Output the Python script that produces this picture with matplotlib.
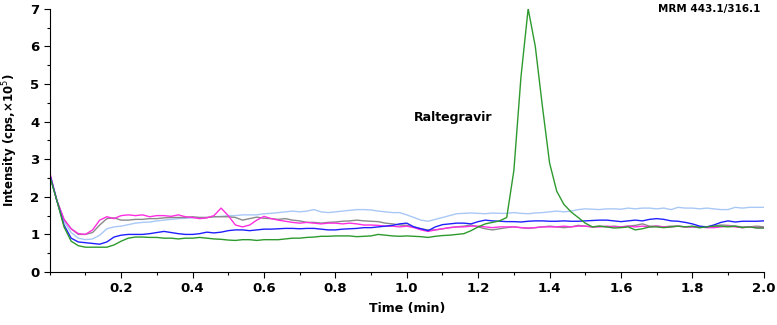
import numpy as np
import matplotlib
matplotlib.use("Agg")
import matplotlib.pyplot as plt
from matplotlib.ticker import MultipleLocator

# retention time grid (min), one sample every 0.02 min
time = np.linspace(0.0, 2.0, 101)

# intensity (cps, x10^5)
green = [2.55, 1.9, 1.2, 0.82, 0.7, 0.66, 0.66, 0.66, 0.66, 0.72,
         0.82, 0.9, 0.93, 0.93, 0.92, 0.92, 0.9, 0.9, 0.88, 0.9,
         0.9, 0.92, 0.9, 0.88, 0.87, 0.85, 0.84, 0.86, 0.86, 0.84,
         0.86, 0.86, 0.86, 0.88, 0.9, 0.9, 0.92, 0.93, 0.95, 0.95,
         0.96, 0.96, 0.96, 0.94, 0.95, 0.96, 1.0, 0.98, 0.96, 0.95,
         0.96, 0.95, 0.94, 0.92, 0.95, 0.97, 0.98, 1.0, 1.02, 1.1,
         1.2, 1.28, 1.32, 1.36, 1.45, 2.7, 5.2, 7.0, 6.0, 4.4,
         2.9, 2.15, 1.8, 1.6, 1.45, 1.3, 1.2, 1.22, 1.2, 1.17,
         1.18, 1.2, 1.12, 1.15, 1.2, 1.2, 1.18, 1.2, 1.22, 1.2,
         1.22, 1.18, 1.2, 1.22, 1.22, 1.2, 1.22, 1.18, 1.2, 1.17,
         1.17]
blue = [2.6, 1.9, 1.25, 0.9, 0.8, 0.78, 0.76, 0.74, 0.8, 0.93,
        0.98, 1.0, 1.0, 1.0, 1.02, 1.05, 1.08, 1.05, 1.02, 1.0,
        1.0, 1.02, 1.06, 1.04, 1.06, 1.1, 1.12, 1.12, 1.1, 1.12,
        1.14, 1.14, 1.15, 1.16, 1.16, 1.15, 1.16, 1.16, 1.14, 1.12,
        1.12, 1.14, 1.15, 1.16, 1.18, 1.18, 1.2, 1.22, 1.24, 1.28,
        1.3, 1.2, 1.15, 1.1, 1.2, 1.26, 1.28, 1.3, 1.3, 1.28,
        1.34, 1.38, 1.36, 1.35, 1.34, 1.34, 1.33, 1.35, 1.36, 1.36,
        1.35, 1.35, 1.36, 1.35, 1.35, 1.36, 1.37, 1.38, 1.38, 1.36,
        1.34, 1.36, 1.38, 1.36, 1.4, 1.42, 1.4, 1.36, 1.35, 1.32,
        1.28, 1.22, 1.2, 1.25, 1.32, 1.36, 1.33, 1.35, 1.35, 1.35,
        1.36]
magenta = [2.65, 1.9, 1.4, 1.15, 1.02, 1.0, 1.12, 1.38, 1.47, 1.42,
           1.5, 1.52, 1.5, 1.52, 1.47, 1.5, 1.5, 1.48, 1.52, 1.47,
           1.45, 1.42, 1.44, 1.5, 1.7, 1.5, 1.25, 1.2, 1.25, 1.38,
           1.48, 1.42, 1.38, 1.35, 1.32, 1.3, 1.32, 1.3, 1.28, 1.3,
           1.3, 1.28, 1.3, 1.28, 1.25, 1.25, 1.24, 1.22, 1.22, 1.2,
           1.22, 1.18, 1.12, 1.08, 1.12, 1.15, 1.18, 1.2, 1.2, 1.22,
           1.22, 1.2, 1.18, 1.2, 1.2, 1.2, 1.18, 1.17, 1.18, 1.2,
           1.2, 1.2, 1.22, 1.2, 1.22, 1.22, 1.2, 1.2, 1.22, 1.2,
           1.2, 1.22, 1.2, 1.22, 1.2, 1.22, 1.2, 1.2, 1.22, 1.2,
           1.2, 1.2, 1.18, 1.18, 1.2, 1.22, 1.2, 1.18, 1.2, 1.18,
           1.18]
gray = [2.6, 1.9, 1.4, 1.15, 1.0, 1.0, 1.05, 1.25, 1.42, 1.44,
        1.38, 1.38, 1.4, 1.4, 1.42, 1.42, 1.44, 1.45, 1.45, 1.45,
        1.47, 1.45, 1.45, 1.47, 1.47, 1.47, 1.45, 1.38, 1.42, 1.46,
        1.43, 1.42, 1.4, 1.42, 1.38, 1.36, 1.32, 1.32, 1.3, 1.32,
        1.33, 1.35, 1.36, 1.38, 1.36, 1.35, 1.34, 1.3, 1.28, 1.25,
        1.24, 1.2, 1.15, 1.12, 1.12, 1.15, 1.18, 1.2, 1.22, 1.25,
        1.2, 1.15, 1.12, 1.15, 1.18, 1.2, 1.18, 1.16, 1.18, 1.2,
        1.22, 1.2, 1.18, 1.2, 1.24, 1.22, 1.2, 1.22, 1.2, 1.22,
        1.2, 1.22, 1.24, 1.28, 1.22, 1.22, 1.2, 1.22, 1.22, 1.2,
        1.2, 1.18, 1.2, 1.22, 1.25, 1.24, 1.22, 1.2, 1.2, 1.22,
        1.2]
light_blue = [2.6, 1.9, 1.35, 1.05, 0.9, 0.86, 0.88, 0.98, 1.15, 1.2,
              1.22, 1.26, 1.3, 1.32, 1.33, 1.36, 1.38, 1.4, 1.42, 1.43,
              1.44, 1.45, 1.45, 1.47, 1.48, 1.5, 1.5, 1.52, 1.52, 1.52,
              1.55, 1.56, 1.58, 1.6, 1.62, 1.6, 1.62, 1.66, 1.6, 1.58,
              1.6, 1.62, 1.64, 1.66, 1.66, 1.65, 1.62, 1.6, 1.58, 1.58,
              1.52, 1.45, 1.38, 1.35, 1.4, 1.45, 1.5, 1.55, 1.56, 1.57,
              1.56, 1.55, 1.57, 1.56, 1.56, 1.58, 1.56, 1.55, 1.57, 1.58,
              1.6, 1.62, 1.6, 1.62, 1.66, 1.68, 1.67, 1.66, 1.68, 1.68,
              1.67, 1.7, 1.68, 1.7, 1.7, 1.68, 1.7, 1.66, 1.72, 1.7,
              1.7, 1.68, 1.7, 1.68, 1.66, 1.66, 1.72, 1.7, 1.72, 1.72,
              1.72]

series = [
    (light_blue, "#a9c8f5"),
    (gray, "#8a8a8a"),
    (magenta, "#ff2ee0"),
    (blue, "#2020ff"),
    (green, "#2e9a2e"),
]

fig = plt.figure(figsize=(7.77, 3.25), dpi=100)
ax = fig.add_axes([0.064, 0.163, 0.919, 0.81])

for values, color in series:
    ax.plot(time, values, color=color, lw=1.0)

ax.set_xlim(0, 2.0)
ax.set_ylim(0, 7)
ax.set_xticks(np.arange(0.2, 2.01, 0.2))
ax.set_xticklabels([f"{v:.1f}" for v in np.arange(0.2, 2.01, 0.2)])
ax.set_yticks(range(0, 8))
ax.xaxis.set_minor_locator(MultipleLocator(0.1))
ax.yaxis.set_minor_locator(MultipleLocator(0.5))
ax.tick_params(which="major", length=4, width=0.8, labelsize=9.5)
ax.tick_params(which="minor", length=2.5, width=0.8)
for lbl in ax.get_xticklabels() + ax.get_yticklabels():
    lbl.set_fontweight("bold")
ax.spines["top"].set_visible(False)
ax.spines["right"].set_visible(False)

ax.set_xlabel("Time (min)", fontsize=9, fontweight="bold", labelpad=5)
ax.set_ylabel("Intensity (cps,×10$^{5}$)", fontsize=8.5, fontweight="bold", labelpad=7)

ax.text(1.13, 4.1, "Raltegravir", fontsize=9, fontweight="bold", ha="center", va="center")
fig.text(0.978, 0.988, "MRM 443.1/316.1", fontsize=7.5, fontweight="bold", ha="right", va="top")

fig.savefig("out.png", dpi=100)
